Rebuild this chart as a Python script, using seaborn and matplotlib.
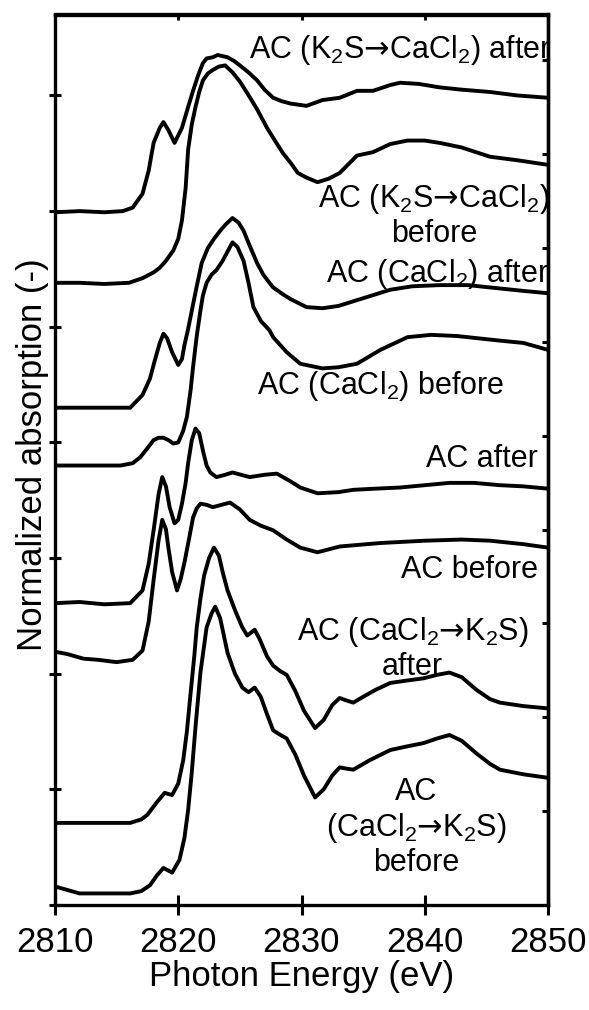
import matplotlib
matplotlib.use("Agg")
import matplotlib.pyplot as plt
import seaborn as sns

# S K-edge XANES spectra, stacked with offsets (y in units of the left tick spacing)
# values

k2s_cacl2_after_e = [2810, 2812, 2814, 2815.5, 2816.3, 2817.1, 2817.6, 2818.0, 2818.5, 2818.8, 2819.2, 2819.7,
                     2820.3, 2820.8, 2821.2, 2821.6, 2822.0, 2822.3, 2822.8, 2823.2, 2823.6, 2824.0, 2824.5,
                     2825.0, 2825.7, 2826.4, 2827.0, 2827.7, 2828.4, 2829.1, 2830.4, 2831.7, 2833.1, 2834.5,
                     2835.8, 2837.2, 2838.0, 2839.5, 2841.2, 2843.0, 2845.3, 2847.5, 2850]
k2s_cacl2_after_y = [5.99, 6.00, 5.99, 6.00, 6.03, 6.15, 6.35, 6.59, 6.72, 6.77, 6.70, 6.59,
                     6.72, 6.90, 7.04, 7.17, 7.28, 7.32, 7.33, 7.35, 7.34, 7.33, 7.30,
                     7.26, 7.20, 7.13, 7.05, 6.98, 6.95, 6.93, 6.91, 6.96, 6.98, 7.04,
                     7.04, 7.09, 7.11, 7.10, 7.07, 7.05, 7.03, 7.00, 6.98]

k2s_cacl2_before_e = [2810, 2812, 2814, 2816, 2817.1, 2818.0, 2818.5, 2819.0, 2819.6, 2820.0, 2820.3, 2820.6,
                      2820.8, 2821.1, 2821.4, 2821.7, 2822.0, 2822.4, 2822.8, 2823.3, 2823.8, 2824.4, 2825.0,
                      2825.6, 2826.4, 2827.2, 2827.9, 2828.5, 2829.1, 2829.7, 2830.4, 2831.3, 2832.2, 2833.1,
                      2834.5, 2835.8, 2837.2, 2838.6, 2840.0, 2841.2, 2843.0, 2845.3, 2847.5, 2850]
k2s_cacl2_before_y = [5.38, 5.38, 5.37, 5.38, 5.42, 5.47, 5.51, 5.57, 5.66, 5.76, 5.92, 6.20,
                      6.53, 6.75, 6.90, 7.03, 7.13, 7.19, 7.22, 7.25, 7.26, 7.20, 7.12,
                      7.02, 6.88, 6.72, 6.60, 6.50, 6.42, 6.33, 6.29, 6.25, 6.28, 6.33,
                      6.48, 6.51, 6.58, 6.61, 6.61, 6.59, 6.55, 6.47, 6.44, 6.40]

cacl2_after_e = [2810, 2813, 2816.1, 2817.1, 2817.7, 2818.1, 2818.5, 2818.8, 2819.1, 2819.5, 2820.0, 2820.3,
                 2820.5, 2820.8, 2821.1, 2821.5, 2821.9, 2822.4, 2822.9, 2823.4, 2823.9, 2824.4, 2824.9,
                 2825.3, 2825.8, 2826.4, 2826.9, 2827.4, 2827.7, 2828.5, 2829.1, 2830.4, 2831.7, 2833.0,
                 2834.5, 2836.0, 2837.2, 2839.0, 2841.2, 2843.5, 2845.3, 2848.0, 2850]
cacl2_after_y = [4.30, 4.30, 4.30, 4.41, 4.55, 4.71, 4.86, 4.94, 4.90, 4.78, 4.67, 4.72,
                 4.84, 4.98, 5.14, 5.35, 5.55, 5.68, 5.76, 5.83, 5.89, 5.94, 5.90,
                 5.83, 5.70, 5.55, 5.45, 5.38, 5.34, 5.28, 5.24, 5.17, 5.16, 5.18,
                 5.23, 5.28, 5.32, 5.35, 5.36, 5.36, 5.34, 5.31, 5.29]

cacl2_before_e = [2810, 2813, 2815.3, 2816.3, 2816.9, 2817.5, 2818.0, 2818.4, 2818.8, 2819.2, 2819.6, 2820.0,
                  2820.4, 2820.7, 2821.0, 2821.2, 2821.5, 2821.8, 2822.0, 2822.3, 2822.7, 2823.1, 2823.6,
                  2824.0, 2824.4, 2824.8, 2825.3, 2825.7, 2826.1, 2826.7, 2827.4, 2827.7, 2828.8, 2829.9,
                  2831.7, 2833.0, 2834.5, 2836.4, 2838.6, 2840.5, 2842.6, 2846.1, 2848.0, 2850]
cacl2_before_y = [3.80, 3.80, 3.80, 3.82, 3.87, 3.95, 4.02, 4.04, 4.04, 4.02, 3.99, 4.00,
                  4.10, 4.22, 4.45, 4.65, 4.92, 5.14, 5.27, 5.38, 5.45, 5.49, 5.57,
                  5.65, 5.73, 5.69, 5.57, 5.38, 5.17, 5.05, 4.97, 4.91, 4.78, 4.68,
                  4.64, 4.65, 4.68, 4.80, 4.91, 4.93, 4.92, 4.88, 4.86, 4.80]

ac_after_e = [2810, 2812, 2814, 2816.1, 2817.1, 2817.6, 2818.0, 2818.4, 2818.7, 2819.0, 2819.3, 2819.7,
              2820.0, 2820.3, 2820.6, 2820.8, 2821.1, 2821.4, 2821.7, 2822.0, 2822.3, 2822.6, 2823.1,
              2823.8, 2824.4, 2825.1, 2825.8, 2827.0, 2828.0, 2829.0, 2829.9, 2831.3, 2833.0, 2834.2,
              2836.0, 2838.0, 2840.0, 2842.0, 2844.0, 2846.1, 2848.0, 2850]
ac_after_y = [2.61, 2.62, 2.60, 2.61, 2.72, 2.95, 3.24, 3.55, 3.70, 3.62, 3.44, 3.30,
              3.33, 3.47, 3.65, 3.82, 4.02, 4.12, 4.08, 3.93, 3.80, 3.74, 3.70,
              3.72, 3.74, 3.72, 3.70, 3.72, 3.73, 3.67, 3.61, 3.56, 3.57, 3.59,
              3.60, 3.61, 3.63, 3.65, 3.65, 3.63, 3.62, 3.60]

ac_before_e = [2810, 2811, 2812.3, 2813.5, 2815.0, 2816.3, 2817.1, 2817.6, 2818.0, 2818.4, 2818.7, 2819.0,
               2819.2, 2819.5, 2819.9, 2820.2, 2820.5, 2820.9, 2821.2, 2821.5, 2821.8, 2822.3, 2822.8,
               2823.5, 2824.2, 2825.0, 2825.8, 2826.7, 2827.7, 2828.8, 2829.9, 2831.3, 2833.1, 2836.4,
               2840.0, 2843.0, 2845.3, 2848.0, 2850]
ac_before_y = [2.19, 2.17, 2.13, 2.12, 2.10, 2.12, 2.20, 2.45, 2.81, 3.15, 3.33, 3.25,
               3.09, 2.88, 2.72, 2.82, 2.96, 3.18, 3.35, 3.43, 3.47, 3.46, 3.44,
               3.46, 3.48, 3.42, 3.33, 3.28, 3.24, 3.16, 3.09, 3.05, 3.10, 3.13,
               3.15, 3.16, 3.15, 3.12, 3.09]

cacl2_k2s_after_e = [2810, 2812, 2814, 2816.1, 2817.0, 2817.5, 2818.2, 2818.9, 2819.5, 2820.0, 2820.4, 2820.7,
                     2821.0, 2821.3, 2821.5, 2821.8, 2822.1, 2822.5, 2822.9, 2823.3, 2823.6, 2824.0, 2824.6,
                     2825.2, 2825.6, 2826.2, 2826.6, 2827.2, 2827.7, 2828.3, 2828.8, 2829.5, 2830.2, 2831.1,
                     2831.8, 2832.5, 2833.1, 2833.6, 2834.2, 2835.0, 2836.0, 2837.2, 2838.5, 2839.9, 2841.0,
                     2842.0, 2843.0, 2844.2, 2845.3, 2846.1, 2848.0, 2850]
cacl2_k2s_after_y = [0.71, 0.71, 0.71, 0.71, 0.74, 0.78, 0.88, 0.97, 0.95, 1.05, 1.25, 1.50,
                     1.83, 2.15, 2.40, 2.65, 2.85, 3.00, 3.09, 3.02, 2.88, 2.72, 2.55,
                     2.40, 2.33, 2.38, 2.30, 2.15, 2.07, 2.02, 1.99, 1.85, 1.68, 1.53,
                     1.60, 1.73, 1.79, 1.77, 1.75, 1.80, 1.86, 1.92, 1.94, 1.96, 1.99,
                     2.01, 1.97, 1.86, 1.78, 1.75, 1.72, 1.70]

cacl2_k2s_before_e = [2810, 2811, 2812, 2814, 2816.1, 2817.0, 2817.7, 2818.3, 2818.8, 2819.5, 2820.1, 2820.5,
                      2820.8, 2821.1, 2821.4, 2821.8, 2822.3, 2822.7, 2823.0, 2823.4, 2824.0, 2824.6, 2825.2,
                      2825.7, 2826.2, 2826.7, 2827.2, 2827.7, 2828.3, 2828.8, 2829.5, 2830.2, 2831.1, 2831.8,
                      2832.5, 2833.1, 2833.6, 2834.2, 2835.5, 2837.2, 2838.5, 2839.9, 2841.0, 2842.0, 2843.0,
                      2844.2, 2845.3, 2846.1, 2848.0, 2850]
cacl2_k2s_before_y = [0.16, 0.13, 0.10, 0.10, 0.10, 0.12, 0.17, 0.26, 0.32, 0.28, 0.39, 0.58,
                      0.82, 1.15, 1.54, 2.01, 2.40, 2.52, 2.58, 2.48, 2.18, 2.00, 1.88,
                      1.84, 1.88, 1.80, 1.65, 1.51, 1.47, 1.44, 1.30, 1.12, 0.93, 1.00,
                      1.12, 1.19, 1.18, 1.17, 1.25, 1.34, 1.37, 1.40, 1.44, 1.47, 1.42,
                      1.31, 1.22, 1.17, 1.13, 1.10]

spectra = [
    (k2s_cacl2_after_e, k2s_cacl2_after_y),
    (k2s_cacl2_before_e, k2s_cacl2_before_y),
    (cacl2_after_e, cacl2_after_y),
    (cacl2_before_e, cacl2_before_y),
    (ac_after_e, ac_after_y),
    (ac_before_e, ac_before_y),
    (cacl2_k2s_after_e, cacl2_k2s_after_y),
    (cacl2_k2s_before_e, cacl2_k2s_before_y),
]

ARROW = r"$\mathsf{→}$"  # wide arrow from DejaVu Sans
labels = [
    "AC (K$_2$S" + ARROW + "CaCl$_2$) after",
    "AC (K$_2$S" + ARROW + "CaCl$_2$)\nbefore",
    "AC (CaCl$_2$) after",
    "AC (CaCl$_2$) before",
    "AC after",
    "AC before",
    "AC (CaCl$_2$" + ARROW + "K$_2$S)\nafter",
    "AC\n(CaCl$_2$" + ARROW + "K$_2$S)\nbefore",
]
# where each label sits (x, y, horizontal alignment)
label_pos = [
    (2850.3, 7.39, "right"),
    (2840.75, 5.96, "center"),
    (2850.1, 5.46, "right"),
    (2836.45, 4.49, "center"),
    (2849.2, 3.86, "right"),
    (2849.2, 2.90, "right"),
    (2839.0, 2.22, "center"),
    (2839.3, 0.67, "center"),
]

x_ticks = [2810, 2820, 2830, 2840, 2850]

sns.set_style("ticks", {"axes.edgecolor": "black", "text.color": "black", "axes.labelcolor": "black",
                        "xtick.color": "black", "ytick.color": "black"})
plt.rcParams["font.family"] = ["Liberation Sans", "DejaVu Sans"]
plt.rcParams["mathtext.fontset"] = "custom"
plt.rcParams["mathtext.rm"] = "Liberation Sans"
plt.rcParams["mathtext.sf"] = "DejaVu Sans"
plt.rcParams["mathtext.default"] = "regular"

fig = plt.figure(figsize=(5.89, 10.10), dpi=100)
ax = fig.add_axes([55 / 589, 105 / 1010, 493 / 589, 890.5 / 1010])

for e, y in spectra:
    sns.lineplot(x=e, y=y, ax=ax, color="black", lw=2.8, sort=False, estimator=None,
                 solid_joinstyle="round", solid_capstyle="butt")

for text, (tx, ty, ha) in zip(labels, label_pos):
    ax.text(tx, ty, text, fontsize=22, ha=ha, va="center", color="black", linespacing=1.15)

ax.set_xlim(2810, 2850)
ax.set_ylim(0, 7.7)
ax.set_xticks(x_ticks)
ax.set_yticks(range(8))
ax.set_yticklabels([])
ax.tick_params(axis="x", direction="inout", length=14, width=2.2, labelsize=25, pad=8, top=False)
ax.tick_params(axis="y", direction="inout", length=8.5, width=2.2)
for s in ax.spines.values():
    s.set_linewidth(2.4)
    s.set_color("black")
    s.set_visible(True)

# top and right edges carry short inward ticks
sec_x = ax.secondary_xaxis("top")
sec_x.set_xticks([2820, 2830, 2840])
sec_x.tick_params(direction="in", length=4, width=2.2, labeltop=False)
sec_x.spines["top"].set_linewidth(2.4)

ax_r = ax.twinx()
ax_r.set_ylim(0, 9.49)
ax_r.set_yticks(range(10))
ax_r.set_yticklabels([])
ax_r.tick_params(axis="y", direction="in", length=4.5, width=2.2)
ax_r.spines["right"].set_linewidth(2.4)

ax.set_xlabel("Photon Energy (eV)", fontsize=25)
ax.xaxis.set_label_coords(0.5, -0.062)
ax.set_ylabel("Normalized absorption (-)", fontsize=25)
ax.yaxis.set_label_coords(-0.012, 0.506)

fig.savefig("out.png", dpi=100)
